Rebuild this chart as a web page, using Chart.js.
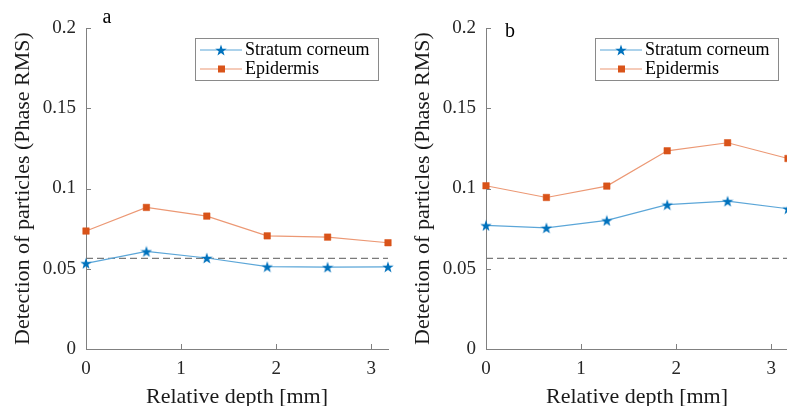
<!DOCTYPE html>
<html>
<head>
<meta charset="utf-8">
<script src="https://cdn.jsdelivr.net/npm/chart.js@4.4.1/dist/chart.umd.min.js"></script>
<style>
  html, body { margin: 0; padding: 0; background: #fff; overflow: hidden; }
  body { width: 787px; height: 406px; position: relative; }
  .panel { position: absolute; top: 0; width: 400px; height: 406px; }
  #wrap-a { left: 0; }
  #wrap-b { left: 400px; }
</style>
</head>
<body>
<div class="panel" id="wrap-a"><canvas id="chart-a"></canvas></div>
<div class="panel" id="wrap-b"><canvas id="chart-b"></canvas></div>
<script>
// values
const depth = [0, 0.635, 1.27, 1.905, 2.54, 3.175];
const stratumA = [0.0534, 0.0608, 0.0567, 0.0513, 0.0510, 0.0512];
const epidermisA = [0.0735, 0.0882, 0.0828, 0.0705, 0.0697, 0.0662];
const stratumB = [0.0770, 0.0755, 0.0801, 0.0899, 0.0921, 0.0874];
const epidermisB = [0.1017, 0.0944, 0.1015, 0.1235, 0.1285, 0.1187];
const threshold = 0.0565;
const xTicks = [0, 1, 2, 3];
const yTicks = [0, 0.05, 0.1, 0.15, 0.2];
const seriesNames = ['Stratum corneum', 'Epidermis'];

const FONT = '"Liberation Serif", "Times New Roman", serif';
const axisColor = '#808080';
const blueMark = '#0072BD', blueLine = '#5ba6d8';
const redMark = '#D95319', redLine = '#ec9874';

// matlab style pentagram marker
function makeStar(size, color) {
  const c = document.createElement('canvas');
  c.width = c.height = size;
  const g = c.getContext('2d');
  const cx = size / 2, cy = size / 2 + 0.6, R = size / 2, r = R * 0.4;
  g.beginPath();
  for (let i = 0; i < 10; i++) {
    const rad = i % 2 ? r : R;
    const ang = -Math.PI / 2 + i * Math.PI / 5;
    g.lineTo(cx + rad * Math.cos(ang), cy + rad * Math.sin(ang));
  }
  g.closePath();
  g.fillStyle = color;
  g.fill();
  return c;
}
const star = makeStar(12, blueMark);

// inward ticks, panel letter and the boxed legend
const decor = {
  id: 'decor',
  afterDraw(chart, args, opts) {
    const { ctx, chartArea: a, scales: { x, y } } = chart;
    ctx.save();
    ctx.strokeStyle = axisColor;
    ctx.lineWidth = 1;
    ctx.beginPath();
    x.ticks.forEach(t => {
      const px = Math.round(x.getPixelForValue(t.value)) + 0.5;
      ctx.moveTo(px, a.bottom); ctx.lineTo(px, a.bottom - 5);
    });
    y.ticks.forEach(t => {
      const py = Math.round(y.getPixelForValue(t.value)) + 0.5;
      ctx.moveTo(a.left, py); ctx.lineTo(a.left + 5, py);
    });
    ctx.stroke();

    ctx.fillStyle = '#000';
    ctx.font = '20px ' + FONT;
    ctx.textBaseline = 'middle';
    ctx.textAlign = 'center';
    ctx.fillText(opts.letter, a.left + opts.letterDx, opts.letterY);

    const lx = Math.round(a.left) + 109, ly = 38, lw = 183, lh = 42;
    ctx.fillStyle = '#fff';
    ctx.fillRect(lx, ly, lw, lh);
    ctx.strokeStyle = '#8a8a8a';
    ctx.strokeRect(lx + 0.5, ly + 0.5, lw, lh);

    const rows = [
      { y: ly + 12, line: blueLine, mark: 'star' },
      { y: ly + 31, line: redLine, mark: 'rect' }
    ];
    ctx.font = '18px ' + FONT;
    ctx.textAlign = 'left';
    rows.forEach((r, i) => {
      ctx.strokeStyle = r.line;
      ctx.lineWidth = 1.2;
      ctx.beginPath();
      ctx.moveTo(lx + 5, r.y); ctx.lineTo(lx + 47, r.y);
      ctx.stroke();
      if (r.mark === 'star') {
        ctx.drawImage(star, lx + 26 - star.width / 2, r.y - star.height / 2);
      } else {
        ctx.fillStyle = redMark;
        ctx.fillRect(lx + 23, r.y - 3.5, 7, 7);
      }
      ctx.fillStyle = '#000';
      ctx.fillText(seriesNames[i], lx + 50, r.y);
    });
    ctx.restore();
  }
};

function makeChart(id, stratum, epidermis, letter, letterDx, letterY) {
  return new Chart(document.getElementById(id), {
    type: 'line',
    data: {
      datasets: [
        {
          label: seriesNames[0],
          data: depth.map((d, i) => ({ x: d, y: stratum[i] })),
          borderColor: blueLine, borderWidth: 1.2,
          pointStyle: star, pointRadius: 6, pointHoverRadius: 6,
          tension: 0, clip: false
        },
        {
          label: seriesNames[1],
          data: depth.map((d, i) => ({ x: d, y: epidermis[i] })),
          borderColor: redLine, borderWidth: 1.2,
          pointStyle: 'rect', pointRadius: 4.6, pointHoverRadius: 4.6,
          pointBackgroundColor: redMark, pointBorderColor: redMark, pointBorderWidth: 0.5,
          tension: 0, clip: false
        },
        {
          label: 'threshold',
          data: [{ x: depth[0], y: threshold }, { x: depth[depth.length - 1], y: threshold }],
          borderColor: '#7a7a7a', borderWidth: 1.3, borderDash: [7, 4],
          pointRadius: 0, clip: false
        }
      ]
    },
    options: {
      responsive: true,
      maintainAspectRatio: false,
      animation: false,
      events: [],
      layout: { padding: { top: 28, right: 12, left: 0, bottom: 0 } },
      plugins: {
        legend: { display: false },
        tooltip: { enabled: false },
        decor: { letter, letterDx, letterY }
      },
      scales: {
        x: {
          type: 'linear', min: 0, max: depth[depth.length - 1],
          afterBuildTicks: s => { s.ticks = xTicks.map(v => ({ value: v })); },
          afterFit: s => { s.height = 57; },
          grid: { display: false, drawTicks: false },
          border: { color: axisColor, width: 1 },
          ticks: { padding: 9, color: '#262626', font: { family: FONT, size: 19 }, maxRotation: 0 },
          title: {
            display: true, text: 'Relative depth [mm]', color: '#1a1a1a',
            font: { family: FONT, size: 22 }, padding: { top: 0, bottom: -4 }
          }
        },
        y: {
          type: 'linear', min: 0, max: 0.2,
          afterBuildTicks: s => { s.ticks = yTicks.map(v => ({ value: v })); },
          afterFit: s => { s.width = 86; },
          grid: { display: false, drawTicks: false },
          border: { color: axisColor, width: 1 },
          ticks: { padding: 10, color: '#262626', font: { family: FONT, size: 19 }, callback: v => String(v) },
          title: {
            display: true, text: 'Detection of particles (Phase RMS)', color: '#1a1a1a',
            font: { family: FONT, size: 22 }, padding: { top: 10, bottom: 0 }
          }
        }
      }
    },
    plugins: [decor]
  });
}

makeChart('chart-a', stratumA, epidermisA, 'a', 21, 18);
makeChart('chart-b', stratumB, epidermisB, 'b', 24, 32);
</script>
</body>
</html>
